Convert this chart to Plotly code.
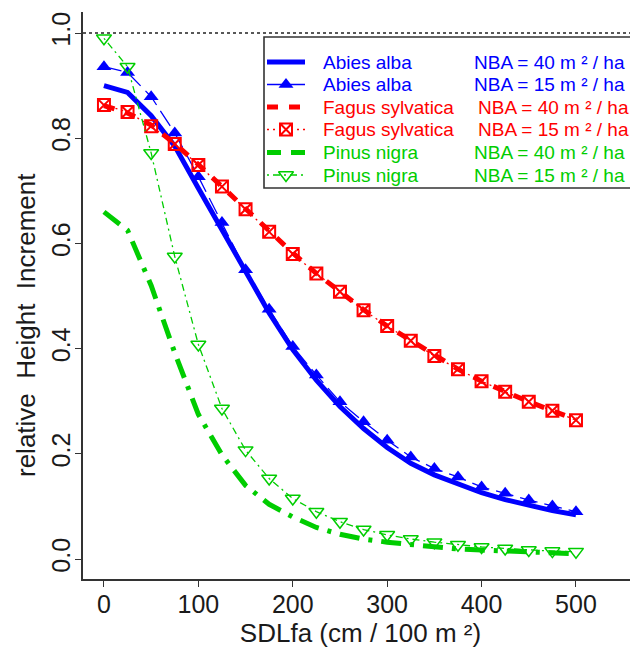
import plotly.graph_objects as go

# ---------------- data ----------------
sdl = [0, 25, 50, 75, 100, 125, 150, 175, 200, 225, 250, 275, 300,
       325, 350, 375, 400, 425, 450, 475, 500]

abies_40 = [0.900, 0.887, 0.843, 0.785, 0.705, 0.625, 0.545, 0.468, 0.398,
            0.340, 0.290, 0.248, 0.212, 0.182, 0.160, 0.142, 0.126, 0.113,
            0.102, 0.092, 0.084]
abies_15 = [0.936, 0.925, 0.879, 0.810, 0.727, 0.640, 0.550, 0.475, 0.404,
            0.350, 0.299, 0.261, 0.226, 0.194, 0.172, 0.156, 0.137, 0.125,
            0.112, 0.101, 0.090]
fagus_40 = [0.862, 0.848, 0.825, 0.790, 0.750, 0.708, 0.665, 0.622, 0.582,
            0.543, 0.508, 0.474, 0.443, 0.415, 0.387, 0.361, 0.338, 0.318,
            0.299, 0.282, 0.265]
fagus_15 = [0.863, 0.850, 0.823, 0.789, 0.749, 0.708, 0.665, 0.622, 0.580,
            0.543, 0.508, 0.473, 0.443, 0.415, 0.386, 0.361, 0.338, 0.318,
            0.299, 0.282, 0.264]
pinus_40 = [0.660, 0.625, 0.520, 0.392, 0.275, 0.198, 0.140, 0.104, 0.080,
            0.060, 0.047, 0.038, 0.032, 0.027, 0.023, 0.019, 0.017, 0.015,
            0.014, 0.012, 0.010]
pinus_15 = [0.990, 0.936, 0.772, 0.575, 0.408, 0.286, 0.207, 0.153, 0.115,
            0.090, 0.071, 0.056, 0.046, 0.038, 0.032, 0.027, 0.023, 0.020,
            0.017, 0.015, 0.014]

x_ticks = [0, 100, 200, 300, 400, 500]
y_ticks = [0.0, 0.2, 0.4, 0.6, 0.8, 1.0]

species = ["Abies alba", "Abies alba", "Fagus sylvatica", "Fagus sylvatica",
           "Pinus nigra", "Pinus nigra"]
nba_labels = ["NBA = 40 m ² / ha", "NBA = 15 m ² / ha",
              "NBA = 40 m ² / ha", "NBA = 15 m ² / ha",
              "NBA = 40 m ² / ha", "NBA = 15 m ² / ha"]

BLUE = "#0000FF"
RED = "#FF0000"
GREEN = "#00CD00"
FONT = "Liberation Sans, Arial, sans-serif"
TXT = "#1a1a1a"

# page has an 8px body margin -> figure is 630x647, drawn at (8, 8)
OFF = 8
W, H = 638 - OFF, 655 - OFF
X0, X1 = 83, 638   # plot-area pixel extents on the page
Y0, Y1 = 12, 579
L, R, T, B = X0 - OFF, 0, Y0 - OFF, 655 - Y1

styles = [
    dict(y=abies_40, color=BLUE, mode="lines",
         line=dict(width=5, dash="solid"), marker=None, legdash="solid"),
    dict(y=abies_15, color=BLUE, mode="lines+markers",
         line=dict(width=1.3, dash="18px,7px"),
         marker=dict(symbol="triangle-up", size=13, color=BLUE),
         legdash="solid"),
    dict(y=fagus_40, color=RED, mode="lines",
         line=dict(width=5, dash="11px,11px"), marker=None,
         legdash="11px,11px"),
    dict(y=fagus_15, color=RED, mode="lines+markers",
         line=dict(width=1.3, dash="2px,4px"),
         marker=dict(symbol="square-x-open", size=12, color=RED,
                     line=dict(width=2, color=RED)),
         legdash="2px,4px"),
    dict(y=pinus_40, color=GREEN, mode="lines",
         line=dict(width=5, dash="20px,9px,4px,9px"), marker=None,
         legdash="14px,10px"),
    dict(y=pinus_15, color=GREEN, mode="lines+markers",
         line=dict(width=1.3, dash="2px,4px,7px,4px"),
         marker=dict(symbol="triangle-down-open", size=13, color=GREEN,
                     line=dict(width=1.5, color=GREEN)),
         legdash="2px,4px,7px,4px"),
]

fig = go.Figure()

for s in styles:
    kw = dict(x=sdl, y=s["y"], mode=s["mode"],
              line=dict(color=s["color"], **s["line"]),
              showlegend=False, hoverinfo="skip")
    if s["marker"] is not None:
        kw["marker"] = s["marker"]
    fig.add_trace(go.Scatter(**kw))

# ---- custom legend, drawn on an overlay axis in page-pixel units ----
leg_left, leg_top, leg_right, leg_bot = 264, 37, 636, 188
row_y = [62, 84.5, 107, 129.5, 152.5, 175]
sym_x0, sym_x1 = 267, 305
sym_xc = 286

for s, yy in zip(styles, row_y):
    fig.add_trace(go.Scatter(
        x=[sym_x0, sym_x1], y=[yy, yy], mode="lines",
        line=dict(color=s["color"], width=s["line"]["width"], dash=s["legdash"]),
        xaxis="x2", yaxis="y2", showlegend=False, hoverinfo="skip"))
    if s["marker"] is not None:
        fig.add_trace(go.Scatter(
            x=[sym_xc], y=[yy], mode="markers", marker=s["marker"],
            xaxis="x2", yaxis="y2", showlegend=False, hoverinfo="skip"))

annotations = []
for sp, nb, s, yy in zip(species, nba_labels, styles, row_y):
    annotations.append(dict(x=321, y=yy, xref="x2", yref="y2", text=sp,
                            showarrow=False, xanchor="left", yanchor="middle",
                            font=dict(family=FONT, size=19, color=s["color"])))
    nx = 476 if sp.startswith("Fagus") else 472
    annotations.append(dict(x=nx, y=yy, xref="x2", yref="y2", text=nb,
                            showarrow=False, xanchor="left", yanchor="middle",
                            font=dict(family=FONT, size=19, color=s["color"])))

# y-axis title, placed as in the reference (page x=26, y=325)
annotations.append(dict(x=(26 - X0) / (X1 - X0), y=(Y1 - 325) / (Y1 - Y0),
                        xref="paper", yref="paper",
                        text="relative  Height  Increment", textangle=-90,
                        showarrow=False, xanchor="center", yanchor="middle",
                        font=dict(family=FONT, size=26, color=TXT)))

shapes = [
    dict(type="line", xref="paper", x0=0, x1=1, yref="y", y0=1.0, y1=1.0,
         line=dict(color="#222222", width=1.6, dash="dot"), layer="below"),
    dict(type="rect", xref="x2", yref="y2", x0=leg_left, x1=leg_right,
         y0=leg_top, y1=leg_bot, fillcolor="white",
         line=dict(color="#333333", width=1.6), layer="below"),
]

fig.update_layout(
    width=W, height=H,
    margin=dict(l=L, r=R, t=T, b=B, pad=0),
    paper_bgcolor="white", plot_bgcolor="white",
    font=dict(family=FONT, color=TXT),
    xaxis=dict(range=[-22.2, 565.7], tickvals=x_ticks,
               ticktext=[str(v) for v in x_ticks],
               showgrid=False, zeroline=False, showline=True,
               linecolor="#333333", linewidth=1.6, mirror=False,
               ticks="outside", ticklen=6, tickwidth=1.4, tickcolor="#333333",
               ticklabelstandoff=-4,
               tickfont=dict(size=25, family=FONT, color=TXT),
               title=dict(text="SDLfa (cm / 100 m ²)", standoff=4,
                          font=dict(size=26, family=FONT, color=TXT)),
               automargin=False),
    yaxis=dict(range=[-0.038, 1.040], tickvals=y_ticks,
               ticktext=[f"{v:.1f}" for v in y_ticks],
               showgrid=False, zeroline=False, showline=True,
               linecolor="#333333", linewidth=1.6, mirror=False,
               ticks="outside", ticklen=6, tickwidth=1.4, tickcolor="#333333",
               tickangle=-90, ticklabelstandoff=-5,
               tickfont=dict(size=25, family=FONT, color=TXT),
               automargin=False),
    xaxis2=dict(range=[X0, X1], overlaying="x", visible=False,
                fixedrange=True),
    yaxis2=dict(range=[Y1, Y0], overlaying="y", visible=False,
                fixedrange=True),
    shapes=shapes,
    annotations=annotations,
)

fig.write_html("out.html")
